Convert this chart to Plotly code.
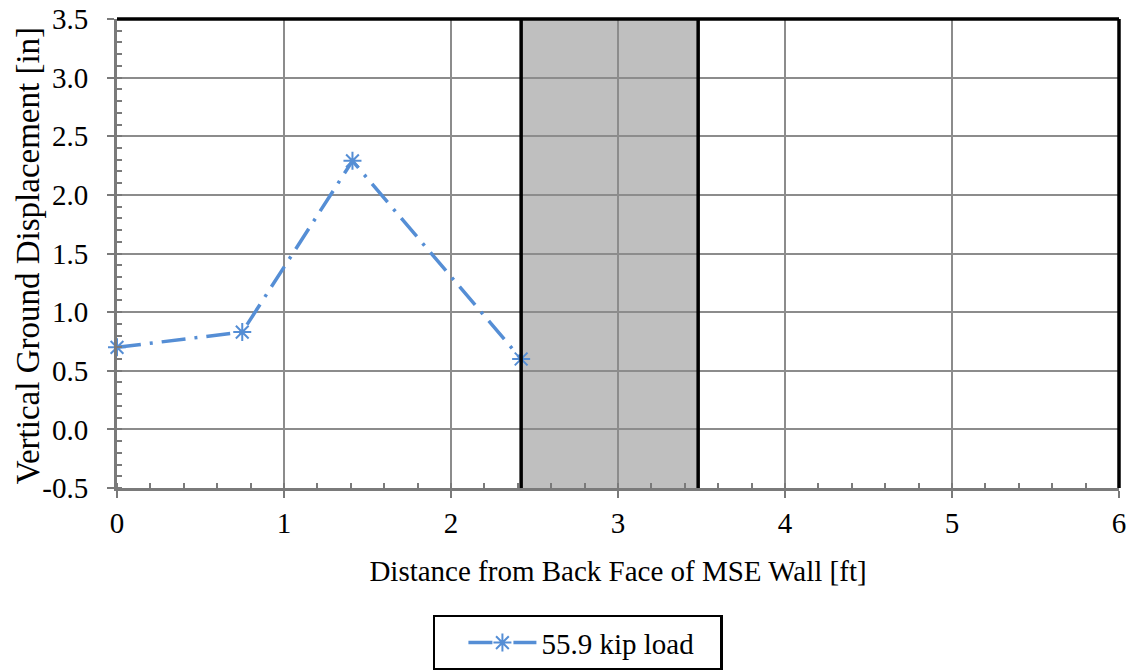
import plotly.graph_objects as go

# Measured vertical ground displacement behind the MSE wall
distance_ft = [0.0, 0.75, 1.41, 2.42]
displacement_in = [0.70, 0.83, 2.29, 0.60]
series_name = "55.9 kip load"

# Wall facing zone (shaded band)
wall_start_ft = 2.42
wall_end_ft = 3.48

x_ticks = [0, 1, 2, 3, 4, 5, 6]
y_ticks = [-0.5, 0.0, 0.5, 1.0, 1.5, 2.0, 2.5, 3.0, 3.5]

FONT = "Liberation Serif"
FS = 29
BLUE = "#558ED5"
GRID = "#8c8c8c"
AXIS = "#7a7a7a"

fig = go.Figure()
fig.add_trace(go.Scatter(
    x=distance_ft, y=displacement_in, name=series_name,
    mode="lines+markers",
    line=dict(color=BLUE, width=3.5, dash="24px,9px,3px,9px"),
    marker=dict(symbol="asterisk-open", size=15, color=BLUE,
                line=dict(color=BLUE, width=2)),
    cliponaxis=False,
))

# shaded band, below the grid
fig.add_shape(type="rect", xref="x", yref="y",
              x0=wall_start_ft, x1=wall_end_ft, y0=-0.5, y1=3.5,
              fillcolor="#BFBFBF", line=dict(width=0), layer="below")
# band edges
for xv in (wall_start_ft, wall_end_ft):
    fig.add_shape(type="line", xref="x", yref="y", x0=xv, x1=xv, y0=-0.5, y1=3.5,
                  line=dict(color="black", width=3.5), layer="above")
# top and right frame lines
fig.add_shape(type="line", xref="paper", yref="paper", x0=0, x1=1, y0=1, y1=1,
              line=dict(color="black", width=3.5), layer="above")
fig.add_shape(type="line", xref="paper", yref="paper", x0=1, x1=1, y0=0, y1=1,
              line=dict(color="black", width=3.5), layer="above")

# vertical axis title
fig.add_annotation(text="Vertical Ground Displacement [in]",
                   xref="paper", yref="paper", x=-0.088, y=0.496,
                   xanchor="center", yanchor="middle", textangle=-90,
                   showarrow=False, font=dict(family=FONT, size=33, color="black"))

fig.update_layout(
    width=1131, height=670,
    margin=dict(l=117, r=12, t=19, b=182, autoexpand=False),
    paper_bgcolor="white", plot_bgcolor="white",
    font=dict(family=FONT, size=FS, color="black"),
    showlegend=True,
    legend=dict(
        x=0.46, y=-0.33, xanchor="center", yanchor="middle",
        orientation="h",
        bordercolor="black", borderwidth=2.5,
        font=dict(family=FONT, size=FS, color="black"),
        itemwidth=68,
        indentation=28,
        entrywidth=174,
    ),
    xaxis=dict(
        range=[0, 6], tickvals=x_ticks, ticktext=[str(v) for v in x_ticks],
        automargin=False,
        showgrid=True, gridcolor=GRID, gridwidth=1.5,
        showline=True, linecolor=AXIS, linewidth=3,
        ticks="outside", ticklen=7, tickcolor=AXIS, tickwidth=1.5,
        minor=dict(dtick=0.2, ticks="inside", ticklen=5, tickcolor=AXIS,
                   tickwidth=1.5, showgrid=False),
        zeroline=False,
        ticklabelstandoff=0,
        title=dict(text="Distance from Back Face of MSE Wall [ft]",
                   font=dict(family=FONT, size=FS), standoff=23),
        tickfont=dict(family=FONT, size=FS),
    ),
    yaxis=dict(
        range=[-0.5, 3.5], tickvals=y_ticks,
        ticktext=[f"{v:.1f}" for v in y_ticks],
        automargin=False,
        showgrid=True, gridcolor=GRID, gridwidth=1.5,
        showline=True, linecolor=AXIS, linewidth=3,
        ticks="outside", ticklen=7, tickcolor=AXIS, tickwidth=1.5,
        minor=dict(dtick=0.1, ticks="inside", ticklen=5, tickcolor=AXIS,
                   tickwidth=1.5, showgrid=False),
        zeroline=False,
        ticklabelstandoff=13,
        tickfont=dict(family=FONT, size=FS),
    ),
)

fig.write_html("out.html")
